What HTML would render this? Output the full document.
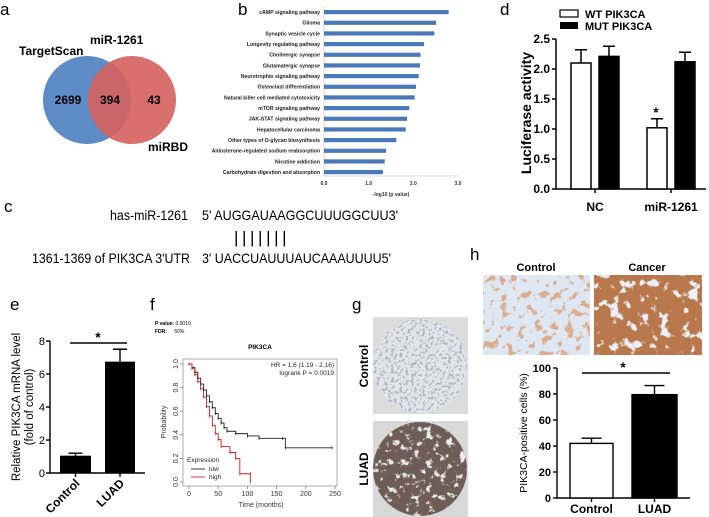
<!DOCTYPE html>
<html><head><meta charset="utf-8"><style>
body{margin:0;background:#fff}
svg{display:block;font-family:"Liberation Sans",sans-serif}
</style></head><body>
<svg id="fig" width="709" height="517" viewBox="0 0 709 517">
<defs>
<filter id="brownStreak" x="0" y="0" width="100%" height="100%">
<feTurbulence type="fractalNoise" baseFrequency="0.12" numOctaves="3" seed="4"/>
<feColorMatrix type="matrix" values="0 0 0 0 0.70  0 0 0 0 0.42  0 0 0 0 0.28  10 0 0 0 -5.6"/>
</filter>
<filter id="brownDense" x="0" y="0" width="100%" height="100%">
<feTurbulence type="fractalNoise" baseFrequency="0.1" numOctaves="3" seed="7"/>
<feColorMatrix type="matrix" values="0 0 0 0 0.85  0 0 0 0 0.88  0 0 0 0 0.93  10 0 0 0 -5.8"/>
</filter>
<filter id="greyTex" x="0" y="0" width="100%" height="100%">
<feTurbulence type="fractalNoise" baseFrequency="0.35" numOctaves="2" seed="2"/>
<feColorMatrix type="matrix" values="0 0 0 0 0.45  0 0 0 0 0.46  0 0 0 0 0.55  8 0 0 0 -4.2"/>
</filter>
<filter id="darkTex" x="0" y="0" width="100%" height="100%">
<feTurbulence type="fractalNoise" baseFrequency="0.15" numOctaves="3" seed="9"/>
<feColorMatrix type="matrix" values="0 0 0 0 0.85  0 0 0 0 0.83  0 0 0 0 0.85  8 0 0 0 -4.6"/>
</filter>
<clipPath id="gc1"><circle cx="420" cy="366" r="47"/></clipPath>
<clipPath id="gc2"><circle cx="420" cy="469" r="47"/></clipPath>
</defs>
<g>
<text x="0" y="15" font-size="17">a</text>
<circle cx="87" cy="100" r="44" fill="#5e8cc6"/>
<circle cx="132" cy="100" r="44" fill="#d6605e" fill-opacity="0.9"/>
<text x="19" y="55" font-size="12" font-weight="bold">TargetScan</text>
<text x="90" y="44" font-size="12" font-weight="bold">miR-1261</text>
<text x="148" y="151" font-size="12" font-weight="bold">miRBD</text>
<text x="68" y="104" font-size="12" font-weight="bold" text-anchor="middle">2699</text>
<text x="110" y="104" font-size="12" font-weight="bold" text-anchor="middle">394</text>
<text x="154" y="104" font-size="12" font-weight="bold" text-anchor="middle">43</text>
</g>
<g id="pb">
<text x="238" y="15" font-size="17">b</text>
</g>
<g id="pd">
<text x="500" y="15" font-size="17">d</text>
</g>
<g>
<text x="4" y="212" font-size="17">c</text>
<text x="110" y="220" font-size="14" textLength="78" lengthAdjust="spacingAndGlyphs">has-miR-1261</text>
<text x="202" y="220" font-size="14" textLength="196" lengthAdjust="spacingAndGlyphs">5' AUGGAUAAGGCUUUGGCUU3'</text>
<text x="234" y="243" font-size="17" letter-spacing="3.6">|||||||</text>
<text x="32" y="263" font-size="14" textLength="158" lengthAdjust="spacingAndGlyphs">1361-1369 of PIK3CA 3'UTR</text>
<text x="202" y="263" font-size="14" textLength="189" lengthAdjust="spacingAndGlyphs">3' UACCUAUUUAUCAAAUUUU5'</text>
</g>
<g id="pe">
<text x="10" y="310" font-size="17">e</text>
</g>
<g id="pf">
<text x="150" y="310" font-size="17">f</text>
<text x="155" y="325" font-size="5" font-weight="bold">P value: <tspan font-weight="normal">0.0019</tspan></text>
<text x="155" y="333" font-size="5" font-weight="bold">FDR: <tspan font-weight="normal" dx="6">50%</tspan></text>
</g>
<g>
<text x="352" y="310" font-size="17">g</text>
<rect x="373" y="317" width="95" height="97" fill="#dcdcdc"/>
<circle cx="420" cy="366" r="47" fill="#e4e4ea"/>
<rect x="373" y="317" width="95" height="97" filter="url(#greyTex)" clip-path="url(#gc1)"/>
<rect x="373" y="421" width="95" height="96" fill="#d8d8d8"/>
<circle cx="420" cy="469" r="47" fill="#6e5d56"/>
<rect x="373" y="421" width="95" height="96" filter="url(#darkTex)" clip-path="url(#gc2)"/>
<text transform="translate(368,366) rotate(-90)" font-size="12" font-weight="bold" text-anchor="middle">Control</text>
<text transform="translate(368,469) rotate(-90)" font-size="12" font-weight="bold" text-anchor="middle">LUAD</text>
</g>
<g id="ph">
<text x="470" y="260" font-size="17">h</text>
<text x="536" y="271" font-size="11" font-weight="bold" text-anchor="middle">Control</text>
<text x="647" y="271" font-size="11" font-weight="bold" text-anchor="middle">Cancer</text>
<rect x="483" y="275" width="107" height="80" fill="#dfe8f2"/>
<rect x="483" y="275" width="107" height="80" filter="url(#brownStreak)"/>
<rect x="594" y="275" width="108" height="80" fill="#b9784c"/>
<rect x="594" y="275" width="108" height="80" filter="url(#brownDense)"/>
</g>
</svg>
<script>
// Panel b data
const bCategories=["cAMP signaling pathway","Glioma","Synaptic vesicle cycle","Longevity regulating pathway","Cholinergic synapse","Glutamatergic synapse","Neurotrophin signaling pathway","Osteoclast differentiation","Natural killer cell mediated cytotoxicity","mTOR signaling pathway","JAK-STAT signaling pathway","Hepatocellular carcinoma","Other types of O-glycan biosynthesis","Aldosterone-regulated sodium reabsorption","Nicotine addiction","Carbohydrate digestion and absorption"];
const bValues=[2.79,2.51,2.47,2.24,2.16,2.15,2.12,2.06,2.03,1.91,1.86,1.83,1.62,1.39,1.36,1.32];
const bTicks=["0.0","1.0","2.0","3.0"];
// Panel d data
const dGroups=["NC","miR-1261"];
const dWT=[2.1,1.02];
const dWTErr=[0.22,0.15];
const dMUT=[2.21,2.12];
const dMUTErr=[0.17,0.16];
const dTicks=["0.0","0.5","1.0","1.5","2.0","2.5"];
// Panel e data
const eGroups=["Control","LUAD"];
const eValues=[1.05,6.75];
const eErr=[0.15,0.75];
const eTicks=["0","2","4","6","8"];
// Panel f data
const fLowT=[0,5,10,15,20,25,30,35,40,45,50,55,60,65,80,100,120,160,165,245];
const fLowP=[1,0.97,0.93,0.88,0.83,0.78,0.73,0.68,0.63,0.58,0.54,0.5,0.46,0.43,0.41,0.39,0.37,0.37,0.29,0.29];
const fHighT=[0,5,10,15,20,25,30,35,40,45,50,55,70,80,87,105,105];
const fHighP=[1,0.96,0.91,0.85,0.79,0.72,0.64,0.56,0.48,0.41,0.36,0.3,0.25,0.2,0.07,0.07,0];
const fXTicks=["0","50","100","150","200","250"];
const fYTicks=["0.0","0.2","0.4","0.6","0.8","1.0"];
// Panel h data
const hGroups=["Control","LUAD"];
const hValues=[42,79.5];
const hErr=[4,7];
const hTicks=["0","20","40","60","80","100"];

const NS="http://www.w3.org/2000/svg";
function mk(parent,tag,attrs,text){const e=document.createElementNS(NS,tag);for(const k in attrs)e.setAttribute(k,attrs[k]);if(text!==undefined)e.textContent=text;parent.appendChild(e);return e;}

// ---- Panel b ----
(function(){
const g=document.getElementById('pb');
const x=v=>324+v*(458-324)/3;
const y=i=>12+i*(172-12)/(bCategories.length-1);
const ax=mk(g,'line',{x1:324,y1:7,x2:324,y2:176,stroke:'#bbb','stroke-width':0.6});


const xa=mk(g,'line',{x1:324,y1:176,x2:458,y2:176,stroke:'#bbb','stroke-width':0.6});


bCategories.forEach((c,i)=>{
 const r=mk(g,'rect',{x:324,y:y(i)-2,width:x(bValues[i])-324,height:4.2,fill:'#4a78b8'});
 
 
 const t=mk(g,'text',{x:320,y:y(i)+2,'font-size':5.2,'font-weight':'bold','text-anchor':'end',fill:'#222'},c);
 
 
});
bTicks.forEach(s=>{const t=mk(g,'text',{x:x(parseFloat(s)),y:185,'font-size':5,'font-weight':'bold','text-anchor':'middle',fill:'#333'},s);
 
 });
const tt=mk(g,'text',{x:391,y:196,'font-size':5,'font-weight':'bold','text-anchor':'middle',fill:'#333'},'-log10 (p value)');


})();

// ---- Panel d ----
(function(){
const g=document.getElementById('pd');
const y=v=>189-v*60;
const centers=[595,671];
const axes=mk(g,'path',{d:'M556,39 V189 H706',stroke:'#000','stroke-width':1.5,fill:'none'});


dTicks.forEach(s=>{const v=parseFloat(s);
 const tk=mk(g,'line',{x1:552,x2:556,y1:y(v),y2:y(v),stroke:'#000','stroke-width':1.5});
 
 
 const t=mk(g,'text',{x:550,y:y(v)+4,'font-size':12,'font-weight':'bold','text-anchor':'end'},s);
 
 });
dGroups.forEach((grp,i)=>{
 const c=centers[i];
 [[dWT,dWTErr,'#fff',c-24],[dMUT,dMUTErr,'#000',c+4]].forEach(([vals,errs,fill,x0],k)=>{
  const v=vals[i],e=errs[i];
  const eb=mk(g,'path',{d:`M${x0+10},${y(v)} V${y(v+e)} M${x0+4},${y(v+e)} H${x0+16}`,stroke:'#000','stroke-width':1.5,fill:'none'});
  
  
  const r=mk(g,'rect',{x:x0,y:y(v),width:20,height:189-y(v),fill:fill,stroke:'#000','stroke-width':1.5});
  
  
 });
 const lab=mk(g,'text',{x:c,y:211,'font-size':12,'font-weight':'bold','text-anchor':'middle'},grp);
 
 
 mk(g,'line',{x1:c,x2:c,y1:189,y2:193,stroke:'#000','stroke-width':1.5});
});
const st=mk(g,'text',{x:656,y:y(dWT[1]+dWTErr[1])-2,'font-size':14,'font-weight':'bold','text-anchor':'middle'},'*');


const yt=mk(g,'text',{transform:'translate(531,113) rotate(-90)','font-size':14,'font-weight':'bold','text-anchor':'middle'},'Luciferase activity');


const r1=mk(g,'rect',{x:560,y:10,width:18,height:7,fill:'#fff',stroke:'#000','stroke-width':1.2});


const r2=mk(g,'rect',{x:560,y:22,width:18,height:7,fill:'#000'});


const l1=mk(g,'text',{x:585,y:18,'font-size':11,'font-weight':'bold'},'WT PIK3CA');


const l2=mk(g,'text',{x:585,y:30,'font-size':11,'font-weight':'bold'},'MUT PIK3CA');


})();

// ---- Panel e ----
(function(){
const g=document.getElementById('pe');
const y=v=>473-v*16.5;
const xs=[[60,91],[105,135]];
const axes=mk(g,'path',{d:'M50,341 V473 H145',stroke:'#000','stroke-width':1.4,fill:'none'});


eTicks.forEach(s=>{const v=parseFloat(s);
 mk(g,'line',{x1:46,x2:50,y1:y(v),y2:y(v),stroke:'#000','stroke-width':1.4});
 const t=mk(g,'text',{x:45,y:y(v)+4,'font-size':11,'text-anchor':'end'},s);
 
 });
eGroups.forEach((grp,i)=>{
 const [a,b]=xs[i],c=(a+b)/2,v=eValues[i],e=eErr[i];
 const eb=mk(g,'path',{d:`M${c},${y(v)} V${y(v+e)} M${c-7},${y(v+e)} H${c+7}`,stroke:'#000','stroke-width':1.4,fill:'none'});
 
 
 const r=mk(g,'rect',{x:a,y:y(v),width:b-a,height:473-y(v),fill:'#000'});
 
 
 mk(g,'line',{x1:c,x2:c,y1:473,y2:477,stroke:'#000','stroke-width':1.4});
 const t=mk(g,'text',{transform:`translate(${c+5},${484}) rotate(-45)`,'font-size':12,'font-weight':'bold','text-anchor':'end'},grp);
 
 
});
const sl=mk(g,'line',{x1:70,x2:127,y1:343,y2:343,stroke:'#000','stroke-width':1.4});


const st=mk(g,'text',{x:98,y:342,'font-size':14,'font-weight':'bold','text-anchor':'middle'},'*');


const yt=mk(g,'text',{transform:'translate(20,407) rotate(-90)','font-size':11.5,'text-anchor':'middle'},'Relative PIK3CA mRNA level');


const yt2=mk(g,'text',{transform:'translate(33,407) rotate(-90)','font-size':11.5,'text-anchor':'middle'},'(fold of control)');


})();

// ---- Panel f ----
(function(){
const g=document.getElementById('pf');
const x=t=>189+t*0.584;
const y=p=>482-p*118;
const box=mk(g,'rect',{x:183,y:359,width:154,height:127,fill:'none',stroke:'#999','stroke-width':0.8});


const ti=mk(g,'text',{x:260,y:349,'font-size':6.5,'font-weight':'bold','text-anchor':'middle'},'PIK3CA');


fXTicks.forEach(s=>{const v=parseFloat(s);
 mk(g,'line',{x1:x(v),x2:x(v),y1:486,y2:489,stroke:'#555','stroke-width':0.6});
 const t=mk(g,'text',{x:x(v),y:496,'font-size':7,'text-anchor':'middle',fill:'#333'},s);
 
 });
fYTicks.forEach(s=>{const v=parseFloat(s);
 mk(g,'line',{x1:180,x2:183,y1:y(v),y2:y(v),stroke:'#555','stroke-width':0.6});
 const t=mk(g,'text',{transform:`translate(178,${y(v)}) rotate(-90)`,'font-size':7,'text-anchor':'middle',fill:'#333'},s);
 
 });
const xt=mk(g,'text',{x:261,y:507,'font-size':7,'text-anchor':'middle',fill:'#333'},'Time (months)');


const yt=mk(g,'text',{transform:'translate(166,422) rotate(-90)','font-size':7,'text-anchor':'middle',fill:'#333'},'Probability');


function step(T,P){let d=`M${x(T[0])},${y(P[0])}`;for(let i=1;i<T.length;i++){d+=` H${x(T[i])} V${y(P[i])}`;}return d;}
const lo=mk(g,'path',{d:step(fLowT,fLowP),fill:'none',stroke:'#222','stroke-width':0.9});


const hi=mk(g,'path',{d:step(fHighT,fHighP),fill:'none',stroke:'#d42020','stroke-width':0.9});


fLowT.forEach((t,i)=>{const m=mk(g,'line',{x1:x(t),x2:x(t),y1:y(fLowP[i])-1.5,y2:y(fLowP[i])+1.5,stroke:'#222','stroke-width':0.8});
 
 });
fHighT.forEach((t,i)=>{const m=mk(g,'line',{x1:x(t),x2:x(t),y1:y(fHighP[i])-1.5,y2:y(fHighP[i])+1.5,stroke:'#d42020','stroke-width':0.8});
 
 });
const h1=mk(g,'text',{x:334,y:367,'font-size':6.5,'text-anchor':'end',fill:'#222'},'HR = 1.6 (1.19 - 2.16)');


const h2=mk(g,'text',{x:334,y:375,'font-size':6.5,'text-anchor':'end',fill:'#222'},'logrank P = 0.0019');


const le=mk(g,'text',{x:187,y:462,'font-size':6.5,fill:'#222'},'Expression');


mk(g,'line',{x1:191,x2:205,y1:469,y2:469,stroke:'#222','stroke-width':0.9});
const l1=mk(g,'text',{x:209,y:471,'font-size':6.5,fill:'#222'},'low');


mk(g,'line',{x1:191,x2:205,y1:477,y2:477,stroke:'#d42020','stroke-width':0.9});
const l2=mk(g,'text',{x:209,y:479,'font-size':6.5,fill:'#222'},'high');


})();

// ---- Panel h ----
(function(){
const g=document.getElementById('ph');
const y=v=>498-v*1.3;
const xs=[[570,613],[632,677]];
const axes=mk(g,'path',{d:'M557,368 V498 H690',stroke:'#000','stroke-width':1.4,fill:'none'});


hTicks.forEach(s=>{const v=parseFloat(s);
 mk(g,'line',{x1:553,x2:557,y1:y(v),y2:y(v),stroke:'#000','stroke-width':1.4});
 const t=mk(g,'text',{x:551,y:y(v)+4,'font-size':11,'font-weight':'bold','text-anchor':'end'},s);
 
 });
hGroups.forEach((grp,i)=>{
 const [a,b]=xs[i],c=(a+b)/2,v=hValues[i],e=hErr[i];
 const eb=mk(g,'path',{d:`M${c},${y(v)} V${y(v+e)} M${c-10},${y(v+e)} H${c+10}`,stroke:'#000','stroke-width':1.4,fill:'none'});
 
 
 const r=mk(g,'rect',{x:a,y:y(v),width:b-a,height:498-y(v),fill:i?'#000':'#fff',stroke:'#000','stroke-width':1.4});
 
 
 mk(g,'line',{x1:c,x2:c,y1:498,y2:502,stroke:'#000','stroke-width':1.4});
 const t=mk(g,'text',{x:c,y:513,'font-size':12,'font-weight':'bold','text-anchor':'middle'},grp);
 
 
});
const sl=mk(g,'line',{x1:582,x2:670,y1:373,y2:373,stroke:'#000','stroke-width':1.4});


const st=mk(g,'text',{x:623,y:372,'font-size':14,'font-weight':'bold','text-anchor':'middle'},'*');


const yt=mk(g,'text',{transform:'translate(527,433) rotate(-90)','font-size':10.5,'text-anchor':'middle'},'PIK3CA-positive cells (%)');


})();
</script>
</body></html>
